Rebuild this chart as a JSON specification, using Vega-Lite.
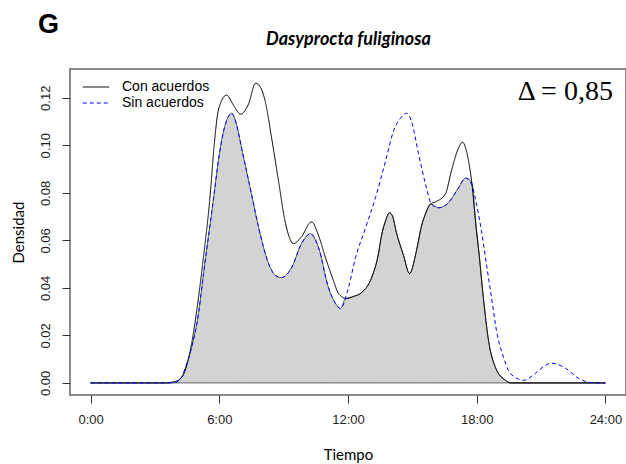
{
  "$schema": "https://vega.github.io/schema/vega-lite/v6.json",
  "width": 556,
  "height": 326,
  "autosize": "none",
  "padding": {"left": 70, "top": 69, "right": 0, "bottom": 69},
  "background": "white",
  "title": {"text": "G", "anchor": "start", "frame": "group", "dx": -32, "offset": -30, "baseline": "alphabetic", "fontSize": 27, "font": "Liberation Sans", "fontWeight": "bold", "color": "black"},
  "config": {
    "view": {"stroke": "#666", "strokeWidth": 1.5},
    "axis": {"grid": false, "domain": false, "tickSize": 8, "tickColor": "#333", "labelFont": "Liberation Sans", "labelFontSize": 13, "labelColor": "#222", "titleFont": "Lato", "titleFontSize": 15, "titleFontWeight": "normal", "titleColor": "black"}
  },
  "datasets": {
    "curves": [
      {"t": 0, "d": 0, "s": "Con acuerdos"},
      {"t": 3.5, "d": 0, "s": "Con acuerdos"},
      {"t": 3.87, "d": 0.0005, "s": "Con acuerdos"},
      {"t": 4.1, "d": 0.0012, "s": "Con acuerdos"},
      {"t": 4.38, "d": 0.0045, "s": "Con acuerdos"},
      {"t": 4.71, "d": 0.0166, "s": "Con acuerdos"},
      {"t": 5.03, "d": 0.0359, "s": "Con acuerdos"},
      {"t": 5.27, "d": 0.0536, "s": "Con acuerdos"},
      {"t": 5.55, "d": 0.0765, "s": "Con acuerdos"},
      {"t": 5.78, "d": 0.1018, "s": "Con acuerdos"},
      {"t": 5.92, "d": 0.1131, "s": "Con acuerdos"},
      {"t": 6.06, "d": 0.1177, "s": "Con acuerdos"},
      {"t": 6.34, "d": 0.1211, "s": "Con acuerdos"},
      {"t": 6.66, "d": 0.1169, "s": "Con acuerdos"},
      {"t": 6.99, "d": 0.1131, "s": "Con acuerdos"},
      {"t": 7.36, "d": 0.1173, "s": "Con acuerdos"},
      {"t": 7.69, "d": 0.1261, "s": "Con acuerdos"},
      {"t": 7.92, "d": 0.1244, "s": "Con acuerdos"},
      {"t": 8.16, "d": 0.1177, "s": "Con acuerdos"},
      {"t": 8.44, "d": 0.103, "s": "Con acuerdos"},
      {"t": 8.76, "d": 0.085, "s": "Con acuerdos"},
      {"t": 9.09, "d": 0.067, "s": "Con acuerdos"},
      {"t": 9.46, "d": 0.0586, "s": "Con acuerdos"},
      {"t": 9.83, "d": 0.0615, "s": "Con acuerdos"},
      {"t": 10.3, "d": 0.0678, "s": "Con acuerdos"},
      {"t": 10.63, "d": 0.0619, "s": "Con acuerdos"},
      {"t": 10.95, "d": 0.0527, "s": "Con acuerdos"},
      {"t": 11.32, "d": 0.0431, "s": "Con acuerdos"},
      {"t": 11.56, "d": 0.0376, "s": "Con acuerdos"},
      {"t": 11.93, "d": 0.0355, "s": "Con acuerdos"},
      {"t": 12.26, "d": 0.0364, "s": "Con acuerdos"},
      {"t": 12.63, "d": 0.038, "s": "Con acuerdos"},
      {"t": 13.1, "d": 0.0443, "s": "Con acuerdos"},
      {"t": 13.42, "d": 0.0544, "s": "Con acuerdos"},
      {"t": 13.56, "d": 0.0619, "s": "Con acuerdos"},
      {"t": 13.75, "d": 0.0682, "s": "Con acuerdos"},
      {"t": 13.93, "d": 0.0716, "s": "Con acuerdos"},
      {"t": 14.07, "d": 0.0703, "s": "Con acuerdos"},
      {"t": 14.26, "d": 0.0632, "s": "Con acuerdos"},
      {"t": 14.59, "d": 0.0536, "s": "Con acuerdos"},
      {"t": 14.87, "d": 0.046, "s": "Con acuerdos"},
      {"t": 15.19, "d": 0.0556, "s": "Con acuerdos"},
      {"t": 15.43, "d": 0.0661, "s": "Con acuerdos"},
      {"t": 15.61, "d": 0.0711, "s": "Con acuerdos"},
      {"t": 15.85, "d": 0.0753, "s": "Con acuerdos"},
      {"t": 16.08, "d": 0.0762, "s": "Con acuerdos"},
      {"t": 16.54, "d": 0.0795, "s": "Con acuerdos"},
      {"t": 16.82, "d": 0.0892, "s": "Con acuerdos"},
      {"t": 17.15, "d": 0.0988, "s": "Con acuerdos"},
      {"t": 17.34, "d": 0.1013, "s": "Con acuerdos"},
      {"t": 17.52, "d": 0.0976, "s": "Con acuerdos"},
      {"t": 17.76, "d": 0.085, "s": "Con acuerdos"},
      {"t": 17.99, "d": 0.064, "s": "Con acuerdos"},
      {"t": 18.08, "d": 0.0569, "s": "Con acuerdos"},
      {"t": 18.31, "d": 0.0359, "s": "Con acuerdos"},
      {"t": 18.55, "d": 0.0179, "s": "Con acuerdos"},
      {"t": 18.87, "d": 0.0066, "s": "Con acuerdos"},
      {"t": 19.34, "d": 0.0011, "s": "Con acuerdos"},
      {"t": 19.57, "d": 0, "s": "Con acuerdos"},
      {"t": 24, "d": 0, "s": "Con acuerdos"},
      {"t": 0, "d": 0, "s": "Sin acuerdos"},
      {"t": 3.6, "d": 0, "s": "Sin acuerdos"},
      {"t": 3.96, "d": 0.0003, "s": "Sin acuerdos"},
      {"t": 4.24, "d": 0.0024, "s": "Sin acuerdos"},
      {"t": 4.43, "d": 0.0066, "s": "Sin acuerdos"},
      {"t": 4.71, "d": 0.015, "s": "Sin acuerdos"},
      {"t": 5.03, "d": 0.0292, "s": "Sin acuerdos"},
      {"t": 5.27, "d": 0.0464, "s": "Sin acuerdos"},
      {"t": 5.5, "d": 0.062, "s": "Sin acuerdos"},
      {"t": 5.73, "d": 0.0775, "s": "Sin acuerdos"},
      {"t": 5.97, "d": 0.0943, "s": "Sin acuerdos"},
      {"t": 6.2, "d": 0.106, "s": "Sin acuerdos"},
      {"t": 6.43, "d": 0.1122, "s": "Sin acuerdos"},
      {"t": 6.57, "d": 0.1135, "s": "Sin acuerdos"},
      {"t": 6.8, "d": 0.1089, "s": "Sin acuerdos"},
      {"t": 7.04, "d": 0.0988, "s": "Sin acuerdos"},
      {"t": 7.27, "d": 0.0892, "s": "Sin acuerdos"},
      {"t": 7.5, "d": 0.0795, "s": "Sin acuerdos"},
      {"t": 7.83, "d": 0.0656, "s": "Sin acuerdos"},
      {"t": 8.3, "d": 0.0502, "s": "Sin acuerdos"},
      {"t": 8.62, "d": 0.0452, "s": "Sin acuerdos"},
      {"t": 8.9, "d": 0.0443, "s": "Sin acuerdos"},
      {"t": 9.37, "d": 0.0485, "s": "Sin acuerdos"},
      {"t": 9.83, "d": 0.0586, "s": "Sin acuerdos"},
      {"t": 10.25, "d": 0.0628, "s": "Sin acuerdos"},
      {"t": 10.63, "d": 0.0569, "s": "Sin acuerdos"},
      {"t": 11.09, "d": 0.0401, "s": "Sin acuerdos"},
      {"t": 11.42, "d": 0.0334, "s": "Sin acuerdos"},
      {"t": 11.65, "d": 0.0313, "s": "Sin acuerdos"},
      {"t": 12.02, "d": 0.0401, "s": "Sin acuerdos"},
      {"t": 12.35, "d": 0.0527, "s": "Sin acuerdos"},
      {"t": 12.82, "d": 0.0653, "s": "Sin acuerdos"},
      {"t": 13.28, "d": 0.0779, "s": "Sin acuerdos"},
      {"t": 13.75, "d": 0.0934, "s": "Sin acuerdos"},
      {"t": 14.12, "d": 0.1059, "s": "Sin acuerdos"},
      {"t": 14.45, "d": 0.1114, "s": "Sin acuerdos"},
      {"t": 14.73, "d": 0.1135, "s": "Sin acuerdos"},
      {"t": 14.96, "d": 0.1101, "s": "Sin acuerdos"},
      {"t": 15.29, "d": 0.0963, "s": "Sin acuerdos"},
      {"t": 15.61, "d": 0.0838, "s": "Sin acuerdos"},
      {"t": 15.89, "d": 0.0753, "s": "Sin acuerdos"},
      {"t": 16.22, "d": 0.0737, "s": "Sin acuerdos"},
      {"t": 16.68, "d": 0.0758, "s": "Sin acuerdos"},
      {"t": 17.15, "d": 0.0821, "s": "Sin acuerdos"},
      {"t": 17.48, "d": 0.0862, "s": "Sin acuerdos"},
      {"t": 17.76, "d": 0.0837, "s": "Sin acuerdos"},
      {"t": 17.99, "d": 0.0753, "s": "Sin acuerdos"},
      {"t": 18.22, "d": 0.064, "s": "Sin acuerdos"},
      {"t": 18.45, "d": 0.0502, "s": "Sin acuerdos"},
      {"t": 18.69, "d": 0.0359, "s": "Sin acuerdos"},
      {"t": 18.92, "d": 0.0221, "s": "Sin acuerdos"},
      {"t": 19.25, "d": 0.0108, "s": "Sin acuerdos"},
      {"t": 19.48, "d": 0.0053, "s": "Sin acuerdos"},
      {"t": 19.95, "d": 0.0016, "s": "Sin acuerdos"},
      {"t": 20.18, "d": 0.0011, "s": "Sin acuerdos"},
      {"t": 20.74, "d": 0.0041, "s": "Sin acuerdos"},
      {"t": 21.2, "d": 0.0074, "s": "Sin acuerdos"},
      {"t": 21.48, "d": 0.0083, "s": "Sin acuerdos"},
      {"t": 22.14, "d": 0.0062, "s": "Sin acuerdos"},
      {"t": 22.74, "d": 0.002, "s": "Sin acuerdos"},
      {"t": 23.21, "d": 0.0003, "s": "Sin acuerdos"},
      {"t": 23.67, "d": 0, "s": "Sin acuerdos"},
      {"t": 24, "d": 0, "s": "Sin acuerdos"}
    ],
    "overlap": [
      {"t": 0, "d": 0},
      {"t": 3.6, "d": 0},
      {"t": 3.96, "d": 0.0003},
      {"t": 4.24, "d": 0.0024},
      {"t": 4.43, "d": 0.0066},
      {"t": 4.71, "d": 0.015},
      {"t": 5.03, "d": 0.0292},
      {"t": 5.27, "d": 0.0464},
      {"t": 5.5, "d": 0.062},
      {"t": 5.73, "d": 0.0775},
      {"t": 5.97, "d": 0.0943},
      {"t": 6.2, "d": 0.106},
      {"t": 6.43, "d": 0.1122},
      {"t": 6.57, "d": 0.1135},
      {"t": 6.8, "d": 0.1089},
      {"t": 7.04, "d": 0.0988},
      {"t": 7.27, "d": 0.0892},
      {"t": 7.5, "d": 0.0795},
      {"t": 7.83, "d": 0.0656},
      {"t": 8.3, "d": 0.0502},
      {"t": 8.62, "d": 0.0452},
      {"t": 8.9, "d": 0.0443},
      {"t": 9.37, "d": 0.0485},
      {"t": 9.83, "d": 0.0586},
      {"t": 10.25, "d": 0.0628},
      {"t": 10.63, "d": 0.0569},
      {"t": 11.09, "d": 0.0401},
      {"t": 11.42, "d": 0.0334},
      {"t": 11.65, "d": 0.0313},
      {"t": 11.88, "d": 0.0355},
      {"t": 12.26, "d": 0.0364},
      {"t": 12.63, "d": 0.038},
      {"t": 13.1, "d": 0.0443},
      {"t": 13.42, "d": 0.0544},
      {"t": 13.56, "d": 0.0619},
      {"t": 13.75, "d": 0.0682},
      {"t": 13.93, "d": 0.0716},
      {"t": 14.07, "d": 0.0703},
      {"t": 14.26, "d": 0.0632},
      {"t": 14.59, "d": 0.0536},
      {"t": 14.87, "d": 0.046},
      {"t": 15.19, "d": 0.0556},
      {"t": 15.43, "d": 0.0661},
      {"t": 15.61, "d": 0.0711},
      {"t": 15.85, "d": 0.0753},
      {"t": 16.22, "d": 0.0737},
      {"t": 16.68, "d": 0.0758},
      {"t": 17.15, "d": 0.0821},
      {"t": 17.48, "d": 0.0862},
      {"t": 17.76, "d": 0.0845},
      {"t": 17.99, "d": 0.064},
      {"t": 18.08, "d": 0.0569},
      {"t": 18.31, "d": 0.0359},
      {"t": 18.55, "d": 0.0179},
      {"t": 18.87, "d": 0.0066},
      {"t": 19.34, "d": 0.0011},
      {"t": 19.57, "d": 0},
      {"t": 24, "d": 0}
    ],
    "note": [
      {"t": 24.35, "d": 0.1223, "lab": "Δ = 0,85"}
    ]
  },
  "layer": [
    {
      "data": {"name": "overlap"},
      "mark": {"type": "area", "interpolate": "monotone", "fill": "#D3D3D3", "stroke": "#444", "strokeWidth": 0.8},
      "encoding": {
        "x": {"field": "t", "type": "quantitative", "scale": {"domain": [-0.96, 24.96], "nice": false, "zero": false},
          "axis": {"values": [0, 6, 12, 18, 24], "labelExpr": "datum.value + ':00'", "labelPadding": 10, "title": "Tiempo", "titlePadding": 21}},
        "y": {"field": "d", "type": "quantitative", "scale": {"domain": [-0.00508, 0.1321], "nice": false, "zero": false},
          "axis": {"values": [0, 0.02, 0.04, 0.06, 0.08, 0.1, 0.12], "format": ".2f", "labelAngle": -90, "labelAlign": "center", "labelBaseline": "bottom", "labelPadding": 10, "title": "Densidad", "titlePadding": 13}}
      }
    },
    {
      "data": {"name": "curves"},
      "mark": {"type": "line", "interpolate": "monotone", "strokeWidth": 1},
      "encoding": {
        "x": {"field": "t", "type": "quantitative", "axis": null},
        "y": {"field": "d", "type": "quantitative"},
        "color": {"field": "s", "type": "nominal", "scale": {"domain": ["Con acuerdos", "Sin acuerdos"], "range": ["#000000", "#0000FF"]},
          "legend": {"orient": "none", "legendX": 12, "legendY": 11, "title": null, "symbolType": "stroke", "symbolSize": 700, "symbolStrokeWidth": 1, "clipHeight": 14, "labelFont": "Liberation Sans", "labelFontSize": 14, "labelColor": "black", "labelOffset": 12, "rowPadding": 2, "padding": 0}},
        "strokeDash": {"field": "s", "type": "nominal", "scale": {"domain": ["Con acuerdos", "Sin acuerdos"], "range": [[1, 0], [4, 3]]}}
      }
    },
    {
      "data": {"name": "note"},
      "mark": {"type": "text", "align": "right", "baseline": "middle", "font": "Liberation Serif", "fontSize": 28, "color": "black"},
      "encoding": {
        "x": {"field": "t", "type": "quantitative", "axis": {"orient": "top", "title": "Dasyprocta fuliginosa", "titleFont": "Lato", "titleFontStyle": "italic", "titleFontWeight": "bold", "titleFontSize": 18, "ticks": false, "labels": false, "domain": false, "titlePadding": 21}},
        "y": {"field": "d", "type": "quantitative"},
        "text": {"field": "lab"}
      }
    }
  ],
  "resolve": {"axis": {"x": "independent"}}
}
